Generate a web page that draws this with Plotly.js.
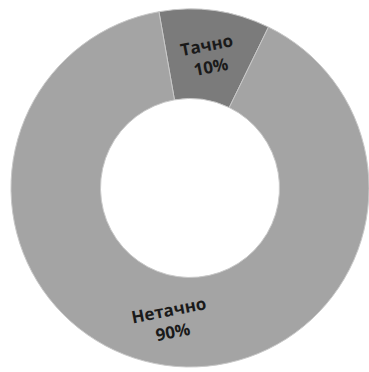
<!DOCTYPE html>
<html>
<head>
<meta charset="utf-8">
<script src="https://cdn.plot.ly/plotly-3.0.1.min.js"></script>
<style>html,body{margin:0;padding:0;background:#fff;}#chart{width:369px;height:372px;}</style>
</head>
<body>
<div id="chart"></div>
<script>
var labels = ['Тачно', 'Нетачно'];
var values = [10, 90];
var colors = ['#7b7b7b', '#a4a4a4'];

var W = 369, H = 372;
var domX = [0.0298, 1.0];
var domY = [0.0108, 0.9785];
var rotation = -10;
var hole = 0.5;
var labelAngle = -11;

var total = values.reduce(function(a, b){ return a + b; }, 0);
var cxPx = (domX[0] + domX[1]) / 2 * W;
var cyPx = H - (domY[0] + domY[1]) / 2 * H;
var R = Math.min((domX[1] - domX[0]) * W, (domY[1] - domY[0]) * H) / 2;
var rMid = R * (1 + hole) / 2;

var annotations = [];
var cum = 0;
for (var i = 0; i < values.length; i++) {
  var midDeg = rotation + (cum + values[i] / 2) / total * 360;
  cum += values[i];
  var a = midDeg * Math.PI / 180;
  var px = cxPx + rMid * Math.sin(a);
  var py = cyPx - rMid * Math.cos(a);
  annotations.push({
    xref: 'paper', yref: 'paper',
    x: px / W, y: (H - py) / H,
    xanchor: 'center', yanchor: 'middle',
    text: '<b>' + labels[i] + '</b><br><b>' + Math.round(values[i] / total * 100) + '%</b>',
    showarrow: false,
    textangle: labelAngle,
    font: {family: 'Open Sans, sans-serif', size: 17, color: '#1a1a1a'}
  });
}

var trace = {
  type: 'pie',
  labels: labels,
  values: values,
  hole: hole,
  sort: false,
  direction: 'clockwise',
  rotation: rotation,
  textinfo: 'none',
  hoverinfo: 'none',
  marker: {colors: colors, line: {color: '#c8c8c8', width: 1}},
  domain: {x: domX, y: domY}
};

var layout = {
  width: W, height: H,
  margin: {l: 0, r: 0, t: 0, b: 0},
  showlegend: false,
  paper_bgcolor: '#ffffff',
  annotations: annotations
};

Plotly.newPlot('chart', [trace], layout, {displayModeBar: false}).then(function(gd){
  return Plotly.relayout(gd, {annotations: JSON.parse(JSON.stringify(annotations))});
});
</script>
</body>
</html>
